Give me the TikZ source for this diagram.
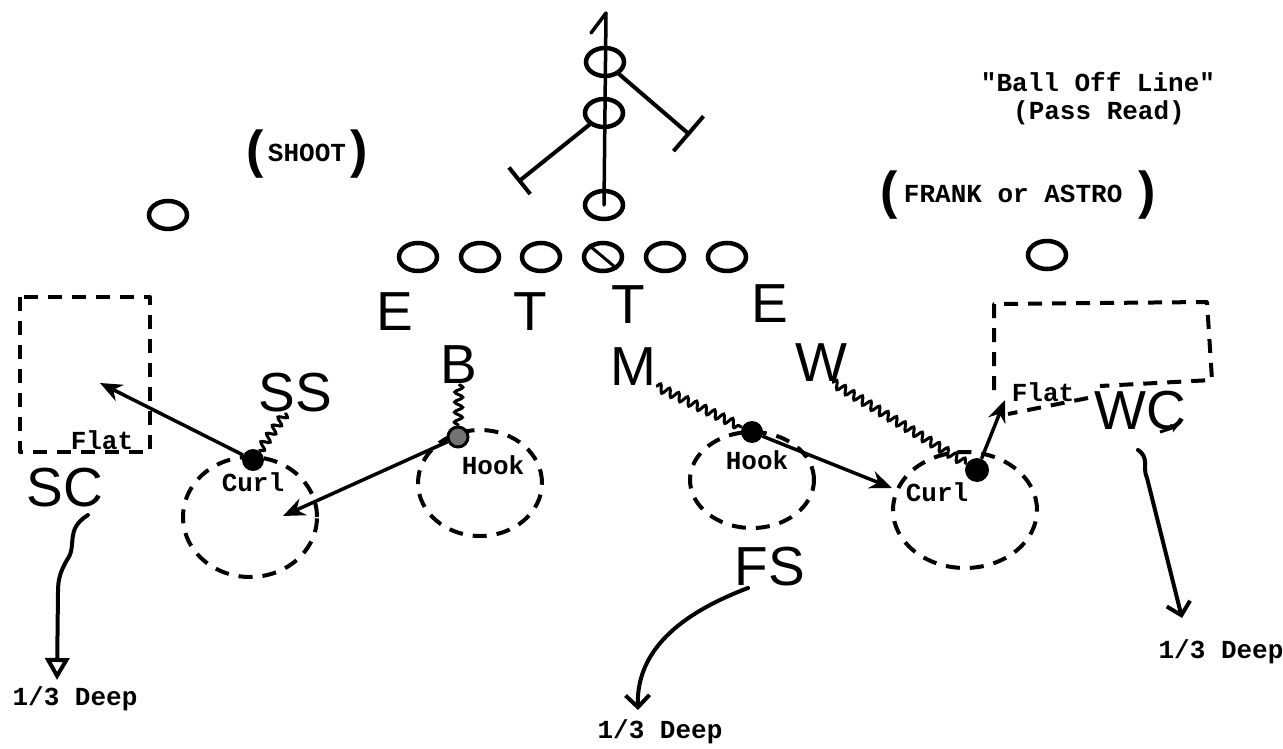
\documentclass[tikz,border=0pt]{standalone}
\usepackage{fontspec}
\newfontfamily\typefont{Liberation Mono}
\newfontfamily\handfont{Liberation Sans}
\usetikzlibrary{arrows.meta,positioning,shapes.geometric,decorations.pathmorphing}
\newcommand\hparen[1]{\raisebox{-6pt}{\handfont\fontsize{52}{56}\selectfont#1}}

\tikzset{
  tw/.style={font=\typefont\bfseries\fontsize{26}{28}\selectfont, inner sep=0pt},
  hand/.style={font=\handfont\fontsize{55}{60}\selectfont, inner sep=0pt},
  off/.style={draw, ellipse, line width=4.5pt, minimum width=38pt, minimum height=28pt, inner sep=0pt},
  zone/.style={draw, ellipse, line width=4pt, dash pattern=on 14pt off 10pt, inner sep=0pt},
  flatbox/.style={line width=4pt, dash pattern=on 14pt off 10pt, line join=round},
  dot/.style={circle, fill, minimum size=22pt, inner sep=0pt},
  wavy/.style={line width=3pt, decorate, decoration={snake, amplitude=4pt, segment length=10pt}},
  pass/.style={line width=3.5pt, -{Stealth[length=22pt,width=18pt]}},
  deep/.style={line width=4pt, line cap=round, -{Straight Barb[length=12pt,width=24pt]}},
  block/.style={line width=4pt, line cap=round},
  route/.style={line width=3.5pt, line join=round, line cap=round}
}

\begin{document}
\begin{tikzpicture}[x=1pt,y=-1pt]
  \useasboundingbox (0,0) rectangle (1283,749);

  % titles
  \node[tw] (title) at (1098,82) {"Ball Off Line"};
  \node[tw] (read) at (1099,113) {(Pass Read)};
  \node[tw] (shoot) at (307,154) {\hparen{(}\,SHOOT\,\hparen{)}};
  \node[tw] (frank) at (1018,195) {\hparen{(}\kern6pt FRANK or ASTRO \hparen{)}};

  % offense
  \node[off] (lt1) at (418,257) {};
  \node[off] (lt2) at (480,257) {};
  \node[off] (lt3) at (541,257) {};
  \node[off] (ctr) at (603,257) {};
  \node[off] (rt1) at (665,257) {};
  \node[off] (rt2) at (727,257) {};
  \draw[line width=3pt] (ctr.140) -- (ctr.-40);
  \node[off] (slot) at (168,215) {};
  \node[off] (wide) at (1047,255) {};
  \node[off] (qb) at (604,205) {};
  \node[off] (fb) at (604,113) {};
  \node[off] (tb) at (605,62) {};

  \coordinate (onetop) at (606,13);
  \coordinate (oneflag) at (591,33);
  \draw[route] (qb.center) -- (onetop) -- (oneflag);
  \coordinate (blkR) at (690,135);
  \coordinate (blkL) at (518,182);
  \draw[block, -{Bar[width=46pt]}] (tb) -- (blkR);
  \draw[block, -{Bar[width=34pt]}] (fb) -- (blkL);

  % front
  \node[hand] (de1) at (395,312) {E};
  \node[hand] (dt1) at (530,312) {T};
  \node[hand] (dt2) at (628,305) {T};
  \node[hand] (de2) at (770,304) {E};
  \node[hand] (lbB) at (459,365) {B};
  \node[hand] (lbM) at (633,367) {M};
  \node[hand] (lbW) at (821,363) {W};
  \node[hand] (ss) at (295,393) {SS};
  \node[hand] (sc) at (65,488) {SC};
  \node[hand] (fs) at (770,567) {FS};
  \node[hand] (wc) at (1140,411) {WC};

  % zones
  \draw[flatbox] (20,297) rectangle (150,452);
  \node[tw] (flatL) at (102,440) {Flat};
  \draw[flatbox] (994,390) -- (994,304) -- (1207,302) -- (1212,380) -- (1100,386);
  \draw[flatbox] (1088,398) -- (1008,414);
  \node[tw] (flatR) at (1043,392) {Flat};
  \node[zone, minimum width=134pt, minimum height=120pt] (curlL) at (250,517) {};
  \node[zone, minimum width=124pt, minimum height=106pt] (hookL) at (480,483) {};
  \node[zone, minimum width=124pt, minimum height=96pt] (hookR) at (752,480) {};
  \node[zone, minimum width=144pt, minimum height=116pt] (curlR) at (965,510) {};

  % drops
  \node[dot] (ssd) at (253,460) {};
  \node[dot, fill=black!55, draw, line width=3pt, minimum size=20pt] (bd) at (458,437) {};
  \node[dot] (md) at (752,432) {};
  \node[dot, minimum size=24pt] (wd) at (977,470) {};
  \node[tw, below=1pt of ssd] (curlLtxt) {Curl};
  \node[tw] (hookLtxt) at (493,465) {Hook};
  \node[tw] (hookRtxt) at (757,460) {Hook};
  \node[tw] (curlRtxt) at (937,492) {Curl};

  \draw[wavy] (ss.-115) -- (ssd);
  \draw[wavy] (lbB.south) -- (bd);
  \draw[wavy] (lbM.south east) -- (md);
  \draw[wavy] (lbW.-60) -- (wd);

  \coordinate (flatLin) at (100,383);
  \coordinate (curlLin) at (283,516);
  \coordinate (curlRin) at (892,488);
  \coordinate (flatRin) at (1005,400);
  \draw[pass] (ssd) -- (flatLin);
  \draw[pass] (bd) -- (curlLin);
  \draw[pass] (md) -- (curlRin);
  \draw[pass] (wd) -- (flatRin);

  % deep thirds
  \coordinate (scgo) at (88,515);
  \coordinate (deepL) at (57,680);
  \draw[line width=4pt, line cap=round, -{Triangle[open,length=22pt,width=24pt]}]
    (scgo) .. controls (64,530) and (78,545) .. (67,560)
    .. controls (60,572) and (58,580) .. (58,592) -- (deepL);
  \coordinate (fsgo) at (748,588);
  \coordinate (deepM) at (638,710);
  \draw[deep] (fsgo) .. controls (690,610) and (636,645) .. (deepM);
  \coordinate (wcgo) at (1138,450);
  \coordinate (deepR) at (1182,618);
  \draw[deep] (wcgo) .. controls (1150,458) and (1142,468) .. (1147,478) -- (deepR);
  \draw[line width=3pt, -{Stealth[length=7pt,width=9pt]}] (1160,432) -- (1178,426);

  \node[tw] (deepLtxt) at (75,699) {1/3 Deep};
  \node[tw] (deepMtxt) at (660,732) {1/3 Deep};
  \node[tw] (deepRtxt) at (1221,652) {1/3 Deep};
\end{tikzpicture}
\end{document}
